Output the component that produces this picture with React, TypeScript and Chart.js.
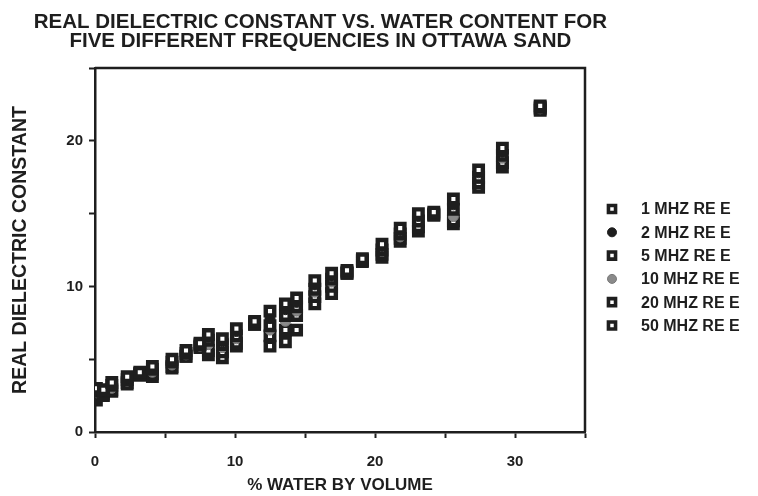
import React, { useEffect, useRef } from 'react';
import { Chart, registerables } from 'chart.js';
import { drawPoint } from 'chart.js/helpers';

Chart.register(...registerables);

const titleLines = [
  'REAL DIELECTRIC CONSTANT VS. WATER CONTENT FOR',
  'FIVE DIFFERENT FREQUENCIES IN OTTAWA SAND',
];
const xAxisTitle = '% WATER BY VOLUME';
const yAxisTitle = 'REAL DIELECTRIC CONSTANT';

const waterContent = [0.1, 0.6, 1.2, 2.3, 3.2, 4.1, 5.5, 6.5, 7.5, 8.1, 9.1, 10.1, 11.4, 12.5, 13.6, 14.4, 15.7, 16.9, 18.0, 19.1, 20.5, 21.8, 23.1, 24.2, 25.6, 27.4, 29.1, 31.8];

const mhz1 = [3.0, 2.9, 3.4, 3.8, 4.1, 4.5, 5.0, 5.6, 6.1, 6.7, 6.4, 7.1, 7.6, 8.3, 8.8, 9.2, 10.4, 10.9, 11.1, 11.9, 12.9, 14.0, 15.0, 15.1, 16.0, 18.0, 19.5, 22.4];
const mhz2 = [2.9, 2.8, 3.3, 3.7, 4.1, 4.4, 4.9, 5.5, 6.0, 6.5, 6.2, 6.9, 7.6, 7.8, 8.4, 8.9, 10.1, 10.7, 11.0, 11.9, 12.7, 13.8, 14.8, 15.0, 15.6, 17.8, 19.2, 22.3];
const mhz5 = [2.8, 2.8, 3.2, 3.6, 4.0, 4.3, 4.8, 5.4, 6.0, 6.3, 6.0, 6.6, 7.5, 7.3, 8.0, 8.6, 9.8, 10.5, 11.0, 11.8, 12.5, 13.6, 14.5, 15.0, 15.3, 17.5, 19.0, 22.3];
const mhz10 = [2.7, 2.9, 3.0, 3.5, 4.0, 4.1, 4.6, 5.3, 5.9, 6.0, 5.8, 6.4, 7.5, 7.0, 7.6, 8.3, 9.6, 10.3, 11.0, 11.8, 12.4, 13.4, 14.4, 15.0, 14.8, 17.4, 18.8, 22.2];
const mhz20 = [2.5, 2.6, 2.9, 3.4, 4.0, 4.0, 4.5, 5.2, 5.9, 5.6, 5.5, 6.1, 7.4, 6.6, 7.0, 8.0, 9.3, 10.0, 10.9, 11.8, 12.2, 13.3, 14.1, 14.9, 14.5, 17.1, 18.5, 22.2];
const mhz50 = [2.2, 2.5, 2.8, 3.3, 3.9, 3.8, 4.4, 5.2, 5.8, 5.3, 5.1, 5.9, 7.4, 5.9, 6.2, 7.0, 8.8, 9.5, 10.9, 11.7, 12.0, 13.1, 13.8, 14.9, 14.3, 16.8, 18.2, 22.1];

const seriesLabels = ['1 MHZ RE E', '2 MHZ RE E', '5 MHZ RE E', '10 MHZ RE E', '20 MHZ RE E', '50 MHZ RE E'];
const seriesValues = [mhz1, mhz2, mhz5, mhz10, mhz20, mhz50];

const xTicks = [0, 10, 20, 30];
const yTicks = [0, 10, 20];

const FONT = "'Liberation Sans', Arial, Helvetica, sans-serif";
const INK = '#1e1e1e';

type Style = { pointStyle: string; bg: string; border: string; bw: number; r: number };
const seriesStyles: Style[] = [
  { pointStyle: 'rect', bg: '#ffffff', border: INK, bw: 4.4, r: 6 },
  { pointStyle: 'circle', bg: INK, border: INK, bw: 1, r: 5 },
  { pointStyle: 'rect', bg: '#ffffff', border: INK, bw: 4.4, r: 6 },
  { pointStyle: 'circle', bg: '#8a8a8a', border: '#777777', bw: 1, r: 5 },
  { pointStyle: 'rect', bg: '#ffffff', border: INK, bw: 4.4, r: 6 },
  { pointStyle: 'rect', bg: '#ffffff', border: INK, bw: 4.4, r: 6 },
];

const framePlugin = {
  id: 'frameAndText',
  afterDraw(chart: any) {
    const { ctx, chartArea } = chart;
    ctx.save();
    // frame
    ctx.strokeStyle = INK;
    ctx.lineWidth = 2.5;
    ctx.beginPath();
    ctx.moveTo(chartArea.left, chartArea.top);
    ctx.lineTo(chartArea.right, chartArea.top);
    ctx.lineTo(chartArea.right, chartArea.bottom);
    ctx.stroke();
    // title
    ctx.fillStyle = INK;
    ctx.font = `bold 20.5px ${FONT}`;
    ctx.textAlign = 'center';
    ctx.textBaseline = 'middle';
    const cx = chartArea.left + chartArea.width * 0.46;
    titleLines.forEach((t, i) => ctx.fillText(t, cx, 22 + i * 19));
    // legend
    ctx.font = `bold 16px ${FONT}`;
    ctx.textAlign = 'left';
    chart.data.datasets.forEach((ds: any, i: number) => {
      const y = chartArea.top + 141 + i * 23.3;
      const mx = chartArea.right + 27;
      const st = seriesStyles[i];
      ctx.fillStyle = st.bg;
      ctx.strokeStyle = st.border;
      ctx.lineWidth = st.pointStyle === 'rect' ? 3.6 : 1;
      drawPoint(ctx, { pointStyle: st.pointStyle as any, radius: st.pointStyle === 'rect' ? 5 : 4.5, borderWidth: ctx.lineWidth, rotation: 0 }, mx, y);
      ctx.fillStyle = INK;
      ctx.fillText(ds.label, chartArea.right + 56, y + 1);
    });
    ctx.restore();
  },
};

export default function App() {
  const ref = useRef<HTMLCanvasElement | null>(null);
  useEffect(() => {
    if (!ref.current) return;
    const datasets = seriesValues.map((vals, i) => ({
      label: seriesLabels[i],
      data: waterContent.map((x, j) => ({ x, y: vals[j] })),
      pointStyle: seriesStyles[i].pointStyle,
      backgroundColor: seriesStyles[i].bg,
      borderColor: seriesStyles[i].border,
      borderWidth: seriesStyles[i].bw,
      pointRadius: seriesStyles[i].r,
      showLine: false,
    }));
    const chart = new Chart(ref.current, {
      type: 'scatter',
      data: { datasets },
      options: {
        animation: false,
        responsive: false,
        maintainAspectRatio: false,
        layout: { padding: { top: 68, right: 173, bottom: 0, left: 0 } },
        plugins: { legend: { display: false }, tooltip: { enabled: false }, title: { display: false } },
        scales: {
          x: {
            type: 'linear',
            min: 0,
            max: 35,
            afterFit: (s: any) => { s.height = 64; },
            afterBuildTicks: (s: any) => { s.ticks = [0, 5, 10, 15, 20, 25, 30, 35].map((v) => ({ value: v })); },
            ticks: {
              callback: (v: any) => (xTicks.includes(Number(v)) ? String(v) : ''),
              color: INK,
              font: { family: FONT, size: 15, weight: 'bold' },
              padding: 15,
              maxRotation: 0,
              autoSkip: false,
            },
            grid: { drawOnChartArea: false, drawTicks: true, tickLength: 6, color: INK, tickWidth: 2 },
            border: { display: true, color: INK, width: 2.5 },
            title: { display: true, text: xAxisTitle, color: INK, font: { family: FONT, size: 17, weight: 'bold' }, padding: { top: 0, bottom: 0 } },
          },
          y: {
            type: 'linear',
            min: 0,
            max: 25,
            afterFit: (s: any) => { s.width = 95; },
            afterBuildTicks: (s: any) => { s.ticks = [0, 5, 10, 15, 20, 25].map((v) => ({ value: v })); },
            ticks: {
              callback: (v: any) => (yTicks.includes(Number(v)) ? String(v) : ''),
              color: INK,
              font: { family: FONT, size: 15, weight: 'bold' },
              padding: 6,
              autoSkip: false,
            },
            grid: { drawOnChartArea: false, drawTicks: true, tickLength: 6, color: INK, tickWidth: 2 },
            border: { display: true, color: INK, width: 2.5 },
            title: { display: true, text: yAxisTitle, color: INK, font: { family: FONT, size: 19.5, weight: 'bold' }, padding: { top: 9, bottom: 0 } },
          },
        },
      },
      plugins: [framePlugin],
    } as any);
    return () => chart.destroy();
  }, []);
  return (
    <div style={{ position: 'absolute', left: 0, top: 0, width: 758, height: 496, background: '#fff' }}>
      <canvas ref={ref} width={758} height={496} style={{ width: 758, height: 496, display: 'block' }} />
    </div>
  );
}
